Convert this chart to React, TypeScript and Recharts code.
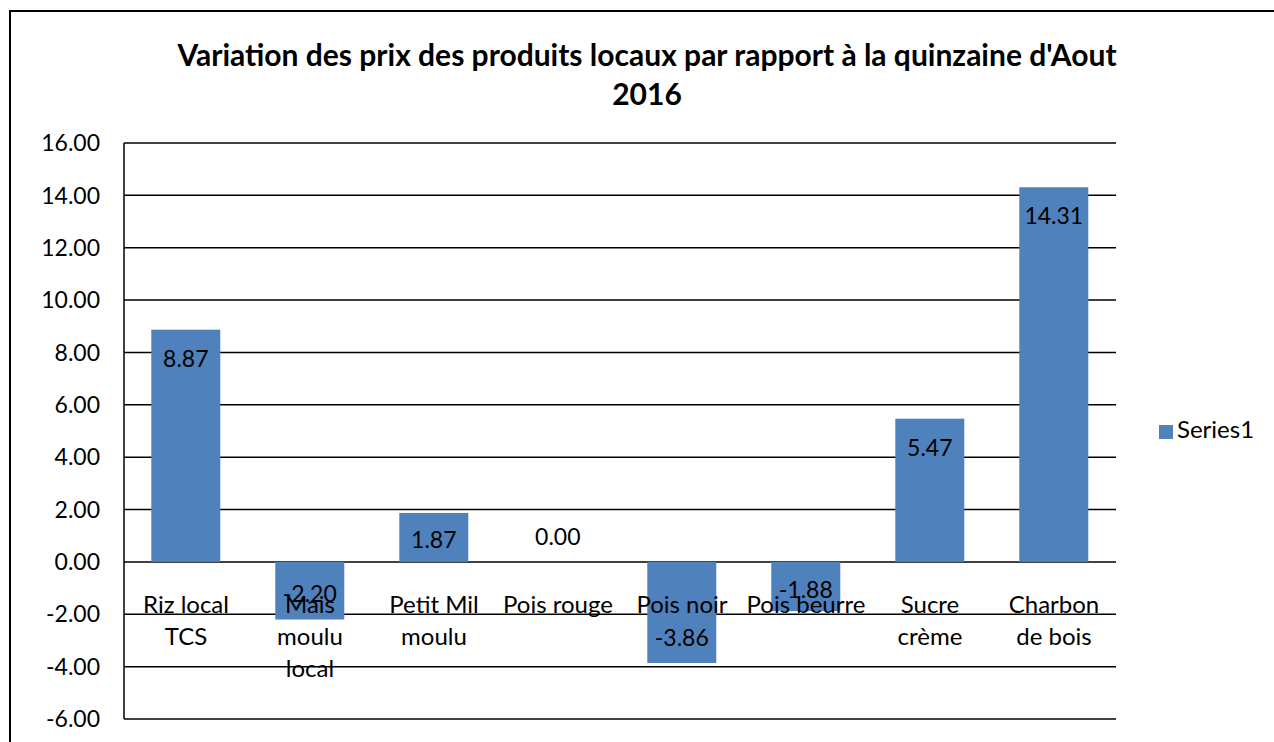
import { BarChart, Bar, XAxis, YAxis, CartesianGrid, Legend } from 'recharts';

const categories = [
  'Riz local\nTCS',
  'Mais\nmoulu\nlocal',
  'Petit Mil\nmoulu',
  'Pois rouge',
  'Pois noir',
  'Pois beurre',
  'Sucre\ncrème',
  'Charbon\nde bois',
];
const series1 = [8.87, -2.2, 1.87, 0.0, -3.86, -1.88, 5.47, 14.31];
const yTicks = [16, 14, 12, 10, 8, 6, 4, 2, 0, -2, -4, -6];

const data = categories.map((name, i) => ({ name, value: series1[i] }));

const FONT = 'Lato, "Open Sans", sans-serif';
const W = 1274;
const H = 742;
const X_AXIS_H = 23;
const M = { top: 143, right: 158, bottom: 0, left: 24 };
const Y_MIN = -6;
const Y_MAX = 16;
const PLOT_H = H - M.top - M.bottom - X_AXIS_H;
// distance from the bottom of the plot up to the zero line
const ZERO_UP = ((0 - Y_MIN) / (Y_MAX - Y_MIN)) * PLOT_H;

function CategoryTick(props: any) {
  const { x, y, payload } = props;
  const lines = String(payload.value).split('\n');
  const baseY = y - 2 - ZERO_UP + 51;
  return (
    <text textAnchor="middle" fontFamily={FONT} fontSize={24} fill="#000">
      {lines.map((l, i) => (
        <tspan key={i} x={x} y={baseY + i * 32}>
          {l}
        </tspan>
      ))}
    </text>
  );
}

// bar + its data label (drawn here so the 0.00 bar still gets a label)
function BarWithLabel(props: any) {
  const { x, y, width, height, fill, payload } = props;
  const value = payload.value as number;
  const top = Math.min(y, y + height);
  const bottom = Math.max(y, y + height);
  const h = bottom - top;
  let cy: number;
  if (value === 0) cy = top - 26;
  else if (h < 70) cy = (top + bottom) / 2 + 2;
  else if (value > 0) cy = top + 28;
  else cy = bottom - 26;
  return (
    <g>
      {h > 0 && <rect x={x} y={top} width={width} height={h} fill={fill} />}
      <text
        x={x + width / 2}
        y={cy}
        textAnchor="middle"
        dominantBaseline="central"
        fontFamily={FONT}
        fontSize={23}
        fill="#000"
      >
        {value.toFixed(2)}
      </text>
    </g>
  );
}

export default function App() {
  return (
    <div
      style={{
        position: 'fixed',
        left: 0,
        top: 0,
        width: W,
        height: H,
        overflow: 'hidden',
        background: '#fff',
      }}
    >
      <div
        style={{
          position: 'absolute',
          left: 9,
          top: 10,
          width: 1300,
          height: 800,
          border: '2px solid #000',
        }}
      />
      <div
        style={{
          position: 'absolute',
          left: 0,
          top: 35,
          width: 1294,
          textAlign: 'center',
          fontFamily: FONT,
          fontWeight: 700,
          fontSize: 30,
          lineHeight: '39px',
          color: '#000',
        }}
      >
        Variation des prix des produits locaux par rapport à la quinzaine d'Aout
        <br />
        2016
      </div>
      <div style={{ position: 'absolute', left: 0, top: 0 }}>
        <BarChart width={W} height={H} data={data} margin={M} barCategoryGap="22%">
          <CartesianGrid vertical={false} stroke="#000" strokeWidth={1.5} />
          <XAxis
            dataKey="name"
            axisLine={false}
            tickLine={false}
            height={X_AXIS_H}
            tickSize={0}
            tickMargin={2}
            interval={0}
            tick={<CategoryTick />}
          />
          <YAxis
            domain={[Y_MIN, Y_MAX]}
            ticks={yTicks}
            width={100}
            interval={0}
            axisLine={{ stroke: '#000', strokeWidth: 1.5 }}
            tickLine={false}
            tickSize={0}
            tickMargin={24}
            tickFormatter={(v) => Number(v).toFixed(2)}
            tick={{ fontFamily: FONT, fontSize: 23, fill: '#000' }}
          />
          <Legend
            layout="vertical"
            align="center"
            verticalAlign="middle"
            iconType="square"
            iconSize={14}
            wrapperStyle={{ left: 1159, top: 414, width: 110, fontFamily: FONT, fontSize: 24 }}
            formatter={(v) => <span style={{ color: '#000' }}>{v}</span>}
          />
          <Bar
            dataKey="value"
            name="Series1"
            fill="#4F81BD"
            isAnimationActive={false}
            shape={<BarWithLabel />}
          />
        </BarChart>
      </div>
    </div>
  );
}
